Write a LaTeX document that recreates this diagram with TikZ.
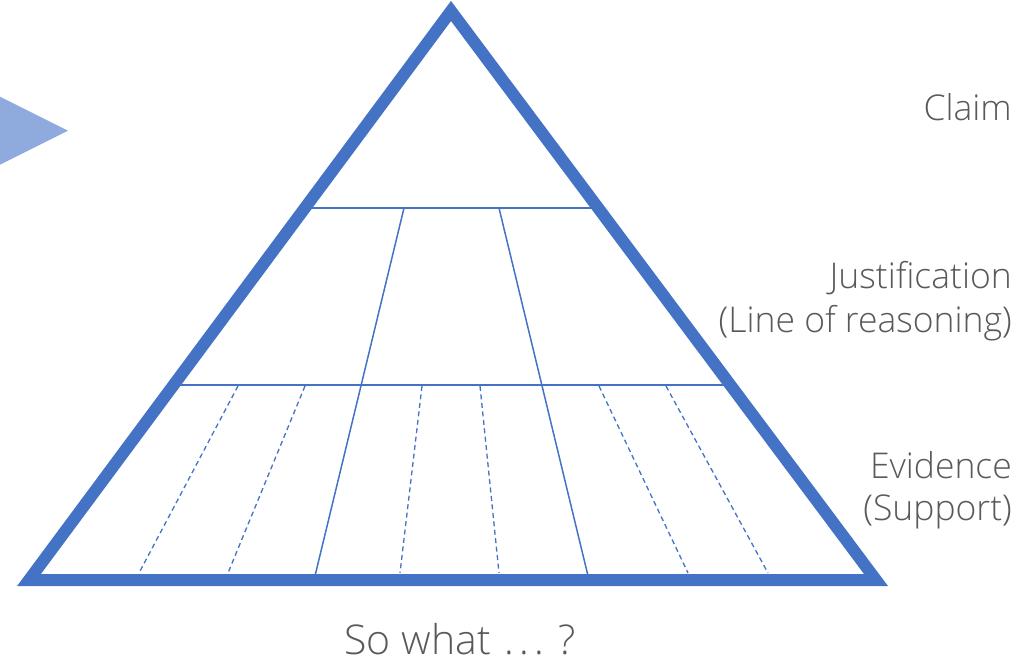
\documentclass[tikz,border=0pt]{standalone}
\usepackage{fontspec}
\setmainfont{Open Sans}[UprightFont={* Light}]
\usetikzlibrary{calc}
\definecolor{pyrblue}{HTML}{4472C4}
\definecolor{lightblue}{HTML}{8FAADC}
\definecolor{txtgray}{HTML}{595959}
\tikzset{
  frame/.style={draw=pyrblue, line width=12pt, line join=miter},
  divider/.style={draw=pyrblue, line width=1.5pt},
  subdivider/.style={draw=pyrblue, line width=1.3pt, dash pattern=on 5pt off 3.5pt},
  label/.style={text=txtgray, font=\fontsize{35.5}{44}\selectfont, inner sep=0pt, anchor=base east},
  caption/.style={text=txtgray, font=\fontsize{41}{48}\selectfont, inner sep=0pt, anchor=base}
}
\begin{document}
\begin{tikzpicture}[x=1pt, y=-1pt]
\useasboundingbox (0,0) rectangle (1027,666);
\begin{scope}
\clip (0,0) rectangle (1027,666);
% play marker at left
\fill[lightblue] (-20,86.7) -- (68,130.7) -- (-20,174.7) -- cycle;
% corners
\coordinate (A) at (451,11);
\coordinate (L) at (29,580);
\coordinate (R) at (876,580);
% horizontal divisions
\coordinate (h1l) at ($(A)!0.3462!(L)$);
\coordinate (h1r) at ($(A)!0.3462!(R)$);
\coordinate (h2l) at ($(A)!0.6573!(L)$);
\coordinate (h2r) at ($(A)!0.6573!(R)$);
\draw[divider] (h1l) -- (h1r);
\draw[divider] (h2l) -- (h2r);
% column dividers
\coordinate (c1t) at (404,208); \coordinate (c1b) at (314,580);
\coordinate (c2t) at (499,208); \coordinate (c2b) at (589,580);
\draw[divider] (c1t) -- (c1b);
\draw[divider] (c2t) -- (c2b);
% evidence sub-divisions
\coordinate (d1t) at (238,386); \coordinate (d1b) at (139,573);
\coordinate (d2t) at (305,386); \coordinate (d2b) at (228,573);
\coordinate (d3t) at (422,386); \coordinate (d3b) at (400,573);
\coordinate (d4t) at (480,386); \coordinate (d4b) at (499,573);
\coordinate (d5t) at (599,386); \coordinate (d5b) at (688,573);
\coordinate (d6t) at (666,386); \coordinate (d6b) at (768,573);
\foreach \i in {1,...,6} { \draw[subdivider] (d\i t) -- (d\i b); }
% pyramid outline
\draw[frame] (A) -- (L) -- (R) -- cycle;
\end{scope}
% labels
\node[label] (claim) at (1012,121) {Claim};
\node[label] (just1) at (1012,288) {Justification};
\node[label] (just2) at (1012,332) {(Line of reasoning)};
\node[label] (evid1) at (1012,478) {Evidence};
\node[label] (evid2) at (1012,520) {(Support)};
\node[caption] (sowhat) at (460,654) {So what\hspace{0.08em} .\hspace{0.12em}.\hspace{0.12em}. ?};
\end{tikzpicture}
\end{document}
